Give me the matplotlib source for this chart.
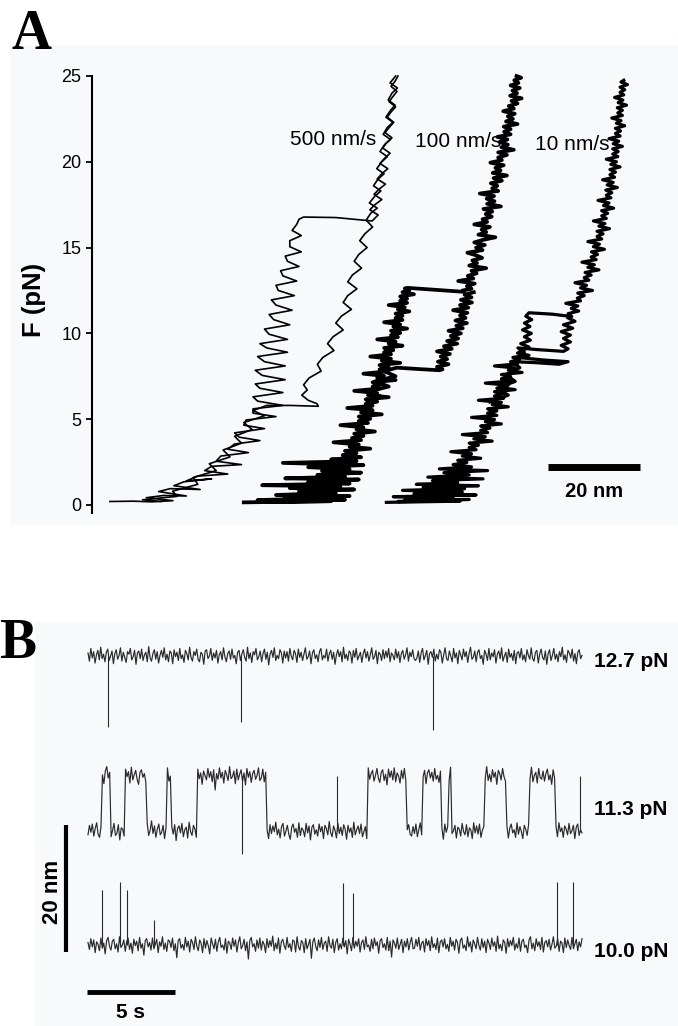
import numpy as np
import matplotlib
matplotlib.use("Agg")
import matplotlib.pyplot as plt
from matplotlib import font_manager
from matplotlib.patches import Rectangle

# ====================== DATA : panel A (force-extension) ======================
Y_TICKS_A = [0, 5, 10, 15, 20, 25]
SPEED_LABELS = ["500 nm/s", "100 nm/s", "10 nm/s"]
SCALE_A_NM = 20

# each trace: (force pN, extension nm) pairs
# 500 nm/s - stretching
C1_UP = [(0.20, 3.9), (0.22, 9.0), (0.18, 13.0), (0.25, 17.6), (0.42, 11.8), (0.55, 15.5), (0.52, 20.5),
         (0.78, 14.5), (0.95, 17.0), (0.90, 23.5), (1.12, 17.8), (1.35, 20.0), (1.52, 26.0), (1.40, 20.5),
         (1.68, 23.0), (1.80, 29.5), (2.00, 24.5), (2.25, 26.0), (2.35, 32.5), (2.55, 27.0), (2.85, 28.0),
         (3.05, 34.0), (3.25, 29.5), (3.55, 31.0), (3.75, 36.5), (3.95, 32.0), (4.20, 31.0), (4.45, 37.5),
         (4.65, 33.0), (4.95, 33.5), (5.15, 40.0), (5.35, 35.0), (5.60, 35.0), (5.80, 41.5), (6.05, 36.0),
         (6.30, 35.0), (6.55, 41.5), (6.80, 36.5), (7.05, 35.5), (7.30, 42.0), (7.55, 37.0), (7.85, 35.5),
         (8.10, 42.0), (8.35, 37.5), (8.65, 36.0), (8.90, 42.5), (9.15, 38.0), (9.40, 36.5), (9.65, 42.5),
         (9.95, 38.5), (10.25, 37.5), (10.50, 43.0), (10.80, 39.5), (11.10, 38.5), (11.35, 43.5),
         (11.65, 40.0), (11.95, 39.0), (12.20, 44.0), (12.50, 40.5), (12.80, 40.0), (13.05, 44.5),
         (13.35, 41.5), (13.65, 41.0), (13.90, 45.0), (14.20, 42.5), (14.50, 42.0), (14.75, 45.5),
         (15.05, 43.0), (15.40, 43.0), (15.70, 45.5), (16.00, 43.5), (16.35, 44.5), (16.65, 45.0),
         (16.78, 46.0), (16.75, 53.0), (16.55, 60.9),
         (16.9, 62.2), (17.2, 60.4), (17.5, 61.5), (17.8, 63.0), (18.1, 61.3), (18.4, 62.4), (18.7, 63.8),
         (19.0, 62.0), (19.3, 63.0), (19.6, 64.3), (19.9, 62.6), (20.2, 63.6), (20.5, 64.8), (20.8, 63.2),
         (21.1, 64.0), (21.4, 65.2), (21.7, 63.7), (22.0, 64.6), (22.3, 65.6), (22.6, 64.2), (22.9, 65.0),
         (23.2, 66.0), (23.5, 64.6), (23.8, 65.4), (24.1, 66.3), (24.4, 65.0), (24.7, 65.9), (25.0, 66.5)]
# 500 nm/s - relaxation
C1_DN = [(25.0, 66.0), (24.6, 64.8), (24.3, 66.4), (24.0, 65.2), (23.6, 64.4), (23.3, 65.9), (23.0, 64.9),
         (22.6, 63.9), (22.3, 65.4), (22.0, 64.2), (21.6, 63.3), (21.3, 64.9), (21.0, 63.6), (20.6, 62.6),
         (20.3, 64.2), (20.0, 63.0), (19.6, 61.9), (19.3, 63.5), (19.0, 62.2), (18.6, 61.2), (18.3, 62.8),
         (18.0, 61.5), (17.6, 60.3), (17.3, 62.0), (17.0, 60.6), (16.6, 59.6), (16.2, 61.0), (15.8, 59.3),
         (15.4, 58.2), (15.0, 59.8), (14.6, 58.0), (14.2, 57.0), (13.8, 58.6), (13.4, 56.6), (13.0, 55.6),
         (12.6, 57.6), (12.2, 55.6), (11.8, 54.6), (11.4, 56.4), (11.0, 54.2), (10.6, 53.0), (10.2, 54.6),
         (9.8, 52.4), (9.4, 51.2), (9.0, 52.6), (8.6, 50.2), (8.2, 49.0), (7.8, 49.8), (7.4, 47.2),
         (7.0, 46.0), (6.7, 46.8), (6.4, 45.6), (6.1, 47.0), (5.9, 48.9), (5.75, 49.2), (5.8, 43.0),
         (5.8, 38.0), (5.5, 35.0), (5.2, 37.5), (4.8, 33.0), (4.4, 34.8), (4.0, 31.0), (3.6, 32.5),
         (3.2, 28.5), (2.8, 30.0), (2.4, 25.5), (2.0, 27.0), (1.6, 22.0), (1.2, 23.0), (0.8, 17.5),
         (0.5, 18.5), (0.3, 11.0), (0.2, 15.0)]

# 100 nm/s - stretching (folded branch, unfolding jump, unfolded branch)
C2_UP = [(0.15, 33.0), (0.22, 52.0), (0.18, 38.0), (0.30, 55.0), (0.28, 36.0), (0.40, 50.0), (0.45, 42.0),
         (0.52, 56.0), (0.58, 40.0), (0.70, 53.0), (0.78, 45.0), (0.90, 57.0), (0.98, 43.0), (1.08, 54.0),
         (1.15, 37.0), (1.25, 56.0), (1.35, 47.0), (1.48, 58.0), (1.55, 42.0), (1.65, 55.0), (1.75, 49.0),
         (1.88, 58.5), (1.98, 50.0), (2.08, 56.0), (2.20, 47.0), (2.32, 59.0), (2.45, 41.5), (2.55, 57.5),
         (2.65, 52.0), (2.78, 58.5),
         (2.90, 54.5), (3.02, 57.5), (3.15, 55.0), (3.28, 60.5), (3.40, 56.0), (3.52, 58.0), (3.65, 52.5),
         (3.78, 58.5), (3.90, 56.5), (4.02, 59.0), (4.15, 57.0), (4.28, 61.5), (4.40, 57.5), (4.52, 59.0),
         (4.65, 54.0), (4.78, 60.0), (4.90, 58.0), (5.02, 60.5), (5.15, 58.0), (5.28, 63.0), (5.40, 58.5),
         (5.52, 61.0), (5.65, 55.5), (5.78, 61.0), (5.90, 59.5), (6.02, 62.0), (6.15, 59.5), (6.28, 64.5),
         (6.40, 60.0), (6.52, 62.0), (6.65, 57.0), (6.78, 62.5), (6.90, 61.0), (7.02, 63.0), (7.15, 61.0),
         (7.28, 66.0), (7.40, 62.0), (7.52, 63.5), (7.65, 59.0), (7.78, 64.0), (7.90, 62.5), (8.02, 64.5),
         (8.15, 62.5), (8.28, 67.0), (8.40, 63.0), (8.52, 65.0), (8.65, 60.5), (8.78, 65.0), (8.90, 63.5),
         (9.02, 65.5), (9.15, 63.5), (9.28, 67.5), (9.40, 64.5), (9.52, 66.0), (9.65, 62.0), (9.78, 66.5),
         (9.90, 65.0), (10.02, 67.0), (10.15, 65.0), (10.28, 68.5), (10.40, 65.5), (10.52, 67.0),
         (10.65, 63.5), (10.78, 67.5), (10.90, 66.0), (11.02, 67.5), (11.15, 66.0), (11.28, 69.0),
         (11.40, 66.5), (11.52, 68.0), (11.65, 64.5), (11.78, 68.5), (11.90, 67.0), (12.02, 68.5),
         (12.15, 67.0), (12.28, 70.0), (12.40, 67.5), (12.52, 69.0), (12.62, 68.0), (12.65, 68.7),
         (12.55, 74.0), (12.42, 80.9),
         (12.50, 80.6), (12.60, 82.5), (12.75, 81.5), (12.90, 83.2), (13.05, 79.6), (13.20, 82.9),
         (13.35, 81.7), (13.50, 83.6), (13.65, 82.5), (13.80, 85.7), (13.95, 82.0), (14.10, 83.7),
         (14.25, 82.7), (14.40, 84.8), (14.55, 83.5), (14.70, 81.6), (14.85, 84.9), (15.00, 83.5),
         (15.15, 85.4), (15.30, 83.1), (15.45, 85.0), (15.60, 87.7), (15.75, 84.0), (15.90, 85.7),
         (16.05, 84.7), (16.20, 86.5), (16.35, 83.1), (16.50, 85.9), (16.65, 84.9), (16.80, 86.9),
         (16.95, 85.6), (17.10, 87.0), (17.25, 85.1), (17.40, 88.9), (17.55, 85.9), (17.70, 87.5),
         (17.85, 85.8), (18.00, 87.4), (18.15, 84.3), (18.30, 88.3), (18.45, 87.0), (18.60, 88.1),
         (18.75, 86.7), (18.90, 89.1), (19.05, 87.3), (19.20, 90.2), (19.35, 87.1), (19.50, 88.8),
         (19.65, 87.7), (19.80, 89.5), (19.95, 86.6), (20.10, 89.1), (20.25, 88.3), (20.40, 90.2),
         (20.55, 88.3), (20.70, 91.7), (20.85, 89.0), (21.00, 90.4), (21.15, 88.6), (21.30, 90.3),
         (21.45, 88.1), (21.60, 91.0), (21.75, 89.6), (21.90, 91.0), (22.05, 89.5), (22.20, 92.5),
         (22.35, 90.0), (22.50, 91.5), (22.65, 90.4), (22.80, 91.9), (22.95, 89.4), (23.10, 91.7),
         (23.25, 90.6), (23.40, 92.5), (23.55, 91.2), (23.70, 93.4), (23.85, 90.9), (24.00, 92.4),
         (24.15, 91.4), (24.30, 93.0), (24.45, 91.0), (24.60, 92.7), (24.75, 91.8), (24.90, 93.3),
         (25.00, 92.3)]
# 100 nm/s - relaxation below the unfolding force, refolding jump
C2_DN = [(12.40, 83.0), (12.25, 81.0), (12.10, 82.5), (11.95, 80.2), (11.80, 82.6), (11.65, 80.0),
         (11.50, 81.8), (11.35, 78.5), (11.20, 81.6), (11.05, 80.0), (10.90, 81.2), (10.75, 79.0),
         (10.60, 81.5), (10.45, 79.2), (10.30, 80.6), (10.15, 77.5), (10.00, 80.2), (9.85, 78.0),
         (9.70, 79.6), (9.55, 77.2), (9.40, 79.4), (9.25, 76.5), (9.10, 78.2), (8.95, 75.0), (8.80, 77.8),
         (8.65, 75.8), (8.50, 77.2), (8.35, 75.2), (8.20, 77.5), (8.05, 75.0), (7.90, 76.2), (7.85, 75.5),
         (7.92, 71.0), (8.00, 66.3), (7.80, 63.5), (7.50, 66.0), (7.20, 61.5), (6.90, 64.5), (6.60, 60.0),
         (6.30, 63.0)]

# 10 nm/s - stretching
C3_UP = [(0.15, 64.0), (0.22, 80.0), (0.20, 66.5), (0.32, 82.0), (0.30, 68.0), (0.42, 78.5), (0.48, 65.5),
         (0.58, 83.5), (0.65, 70.0), (0.75, 80.5), (0.85, 67.5), (0.95, 81.0), (1.02, 72.0), (1.12, 84.0),
         (1.20, 70.5), (1.30, 79.5), (1.42, 74.0), (1.52, 85.0), (1.62, 73.0), (1.75, 82.0), (1.88, 76.5),
         (2.00, 86.0), (2.10, 75.5), (2.22, 82.5),
         (2.35, 78.5), (2.48, 81.5), (2.60, 79.5), (2.72, 84.5), (2.85, 80.5), (2.98, 82.5), (3.10, 78.0),
         (3.22, 83.5), (3.35, 82.0), (3.48, 84.0), (3.60, 82.0), (3.72, 87.0), (3.85, 83.0), (3.98, 85.5),
         (4.10, 80.5), (4.22, 86.0), (4.35, 84.5), (4.48, 86.5), (4.60, 84.5), (4.72, 89.0), (4.85, 85.5),
         (4.98, 87.5), (5.10, 82.5), (5.22, 88.0), (5.35, 86.0), (5.48, 88.0), (5.60, 86.0), (5.72, 90.5),
         (5.85, 87.0), (5.98, 89.0), (6.10, 84.0), (6.22, 89.5), (6.35, 87.5), (6.48, 89.5), (6.60, 87.5),
         (6.72, 92.0), (6.85, 88.5), (6.98, 90.5), (7.10, 85.5), (7.22, 91.0), (7.35, 89.0), (7.48, 91.0),
         (7.60, 89.0), (7.72, 93.5), (7.85, 90.5), (7.98, 92.0), (8.10, 87.5), (8.22, 92.5), (8.35, 91.0),
         (8.48, 93.0), (8.60, 91.5), (8.72, 95.0), (8.85, 92.5),
         (9.00, 93.5), (9.20, 95.0), (9.40, 93.2), (9.60, 95.3), (9.80, 94.0), (10.00, 95.5), (10.20, 93.6),
         (10.40, 95.2), (10.60, 94.0), (10.80, 95.6), (11.00, 94.3), (11.20, 95.0), (11.12, 100.0),
         (10.98, 104.3),
         (11.15, 103.5), (11.30, 105.8), (11.45, 104.2), (11.60, 105.6), (11.75, 103.0), (11.90, 106.2),
         (12.05, 105.5), (12.20, 107.0), (12.35, 105.6), (12.50, 108.8), (12.65, 106.2), (12.80, 107.5),
         (12.95, 105.0), (13.10, 108.0), (13.25, 107.0), (13.40, 108.5), (13.55, 107.2), (13.70, 110.2),
         (13.85, 107.8), (14.00, 109.2), (14.15, 106.5), (14.30, 109.6), (14.45, 108.5), (14.60, 109.9),
         (14.75, 108.6), (14.90, 111.4), (15.05, 109.0), (15.20, 110.3), (15.35, 107.8), (15.50, 110.8),
         (15.65, 109.8), (15.80, 111.1), (15.95, 109.8), (16.10, 112.5), (16.25, 110.2), (16.40, 111.5),
         (16.55, 109.0), (16.70, 111.8), (16.85, 110.8), (17.00, 112.1), (17.15, 110.8), (17.30, 113.4),
         (17.45, 111.2), (17.60, 112.4), (17.75, 110.0), (17.90, 112.8), (18.05, 111.8), (18.20, 113.0),
         (18.35, 111.7), (18.50, 114.2), (18.65, 112.0), (18.80, 113.3), (18.95, 111.0), (19.10, 113.6),
         (19.25, 112.6), (19.40, 113.8), (19.55, 112.6), (19.70, 114.8), (19.85, 112.8), (20.00, 114.0),
         (20.15, 111.8), (20.30, 114.3), (20.45, 113.2), (20.60, 114.4), (20.75, 113.2), (20.90, 115.3),
         (21.05, 113.3), (21.20, 114.5), (21.35, 112.4), (21.50, 114.8), (21.65, 113.8), (21.80, 114.9),
         (21.95, 113.8), (22.10, 115.8), (22.25, 114.0), (22.40, 115.0), (22.55, 113.0), (22.70, 115.3),
         (22.85, 114.3), (23.00, 115.3), (23.15, 114.2), (23.30, 116.2), (23.45, 114.4), (23.60, 115.4),
         (23.75, 113.6), (23.90, 115.6), (24.05, 114.8), (24.20, 115.8), (24.35, 114.8), (24.50, 116.4),
         (24.65, 115.0), (24.75, 115.6)]
# 10 nm/s - relaxation with repeated refolding / unfolding hops
C3_DN = [(10.90, 103.5), (10.70, 105.0), (10.50, 102.5), (10.30, 104.5), (10.10, 102.0), (9.90, 104.0),
         (9.70, 102.5), (9.50, 104.0), (9.30, 102.0), (9.10, 103.5), (8.95, 102.5), (9.05, 97.0),
         (9.15, 92.6), (8.90, 94.0), (8.60, 92.5), (8.45, 98.0), (8.35, 103.5), (8.20, 101.5), (8.30, 96.0),
         (8.35, 91.3), (8.00, 93.0), (7.60, 90.0), (7.20, 92.0), (6.80, 88.0), (6.40, 90.5), (6.00, 86.5)]

# ====================== DATA : panel B (extension vs time) ======================
B_DURATION_S = 28.07
B_FORCE_LABELS = ["12.7 pN", "11.3 pN", "10.0 pN"]
SCALE_B_NM = 20
SCALE_B_S = 5

# 12.7 pN : unfolded level (nm), fluctuations in 0.1 nm, short refolding dips
B1_LEVEL = 45.5
B1_NOISE = [5, -8, 12, -3, 7, -11, 2, 9, -6, 14, -4, 3, -9, 6, 11, -7, 0, 8, -12, 4, 10, -5, 1, 13, -8,
            6, -2, -10, 7, 3, 12, -6, -1, 9, -13, 5, 8, -4, 11, -7, 2, 6, -9, 15, -3, -8, 4, 10, -5, 7,
            -11, 1, 9, -2, 13, -6, 3, -9, 8, 5, -12, 10, -1, 6, -7, 12, -4, 2, -10, 9, 4, -6, 14, -2, -8,
            7, 1, 11, -5, -9, 6, 3, -13, 8, 10, -4, 0, 12, -7, 5, -3, 9, -11, 2, 7, -6, 13, -1, -9, 4,
            8, -5, 11, -3, 1, -12, 6, 9, -7, 3, 10, -2, -8, 14, -4, 5, -10, 7, 2, 12, -6, -1, 8, -9, 4,
            11, -5, 6, -14, 3, 9, -2, 13, -7, 1, -4, 10, 5, -11, 8, -3, 7, -8, 12, 0, -6, 9, 4, -10, 11,
            -2, 6, -7, 3, 13, -5, -1, 8, -12, 5, 10, -4, 2, -9, 7, 12, -6, 1, -3, 11, -8, 4, 9, -5, 6,
            -13, 2, 10, -1, 7, -9, 14, -4, 3, -7, 8, 5, -11, 9, -2, 12, -6, 0, 6, -10, 4, 11, -3, 7, -8,
            2, 13, -5, -1, 9, -12, 6, 3, -7, 10, -4, 8, -2, 12, -9, 5, 1, -6, 11, -3, 7, -10, 4, 9, -5,
            2, 13, -8, 6, -1, 10, -4, -7, -3, 8, -10, 5, 12, -6, 1, 9, -13, 4, 7, -2, 11, -8, 3, -5, 10,
            6, -11, 2, 13, -4, -7, 8, 0, -9, 12, -3, 5, -12, 9, 2, -6, 11, -1, 7, -10, 4, 14, -5, -2, 8,
            -9, 6, 10, -4, 1, -13, 9, 3, -7, 12, -6, 5, -1, 10, -11, 3, 8, -4, 13, -8, 0, 6, -10, 11, -2,
            4, -7, 9, -12, 5, 7, -3, 12, -6, 2, -9, 10, 1, -5, 13, -4, -8, 6, 9, -11, 3, 11, -2, -6, 8,
            -13, 4, 10, -7, 1, 12, -5, 3, -9, 7, -1, 14, -6, 2, -10, 9, 5, -3, 11, -8, 4, -12, 6, 10, -4, 1]
B1_DIP_T = [1.14, 8.69, 19.60]
B1_DIP_NM = [11.2, 10.4, 11.7]

# 11.3 pN : hopping between two levels (switch times in s, starting in the lower level)
B2_LOWER = 17.95
B2_STEP = 8.65
B2_SWITCH_T = [0.80, 1.25, 2.10, 3.35, 4.49, 4.72, 6.19, 10.11, 15.85, 18.13, 18.98, 20.06,
               20.45, 20.68, 22.56, 23.75, 25.06, 26.53]
B2_UP_SPIKE_T = [14.15, 27.95]
B2_DOWN_SPIKE_T = [8.75]
B2_DOWN_SPIKE_NM = [12.2]
B2_NOISE = [-6, 9, -2, 11, -8, 4, 13, -5, -10, 7, 2, -12, 8, 15, -3, 6, -9, 1, 12, -7, -4, 10, -14, 5,
            3, -8, 11, -1, 7, -11, 14, -6, 2, 9, -5, -13, 6, 10, -2, 4, -9, 12, -7, 1, 16, -4, 8, -10,
            3, 11, -6, -2, 9, -12, 5, 13, -8, 0, 7, -5, 10, -15, 4, 8, -3, 12, -9, 2, 6, -11, 14, -1,
            -7, 9, 3, -10, 11, -4, 5, -13, 8, 1, -6, 12, -2, 7, -9, 10, -22, 4, -5, 13, -3, 6, -11, 9,
            2, -7, 15, -4, -1, 8, -12, 11, -6, 3, 10, -8, 5, -14, 12, -2, 7, -10, 4, 9, -5, 1, 13, -7,
            -3, 11, -9, 6, 2, -12, 10, -4, 8, -1, 14, -6, 3, -11, 7, 12, -8, 0, 9, -5, -13, 6, 11, -2,
            4, -10, 13, -7, 5, 1, -9, 12, -3, 8, -14, 6, 10, -5, 2, -8, 11, -1, 7, -12, 9, 4, -6, 15,
            -3, -9, 8, 1, -11, 12, -4, 6, -7, 10, 3, -13, 9, -2, 5, -10, 14, -6, 2, 8, -4, 11, -9, -1,
            7, -12, 13, -5, 4, 9, -8, 1, 12, -3, -10, 6, 10, -7, 3, -14, 11, -2, 8, -6, 13, -9, 5, 0,
            -11, 9, -4, 12, -7, 2, 10, -5, -8, 7, -4, 11, -9, 2, 13, -6, -1, 9, -12, 5, 10, -3, 6, -8,
            12, -5, 1, -10, 8, 4, -13, 11, -2, 7, -7, 14, -4, 0, 9, -11, 6, 3, -8, 12, -1, -6, 10, -9,
            5, 2, -12, 13, -3, 8, -5, 11, -10, 1, 7, -4, 15, -7, 3, -9, 10, -2, 6, -13, 9, 4, -6, 12,
            -1, -8, 8, -11, 5, 11, -3, 2, -10, 13, -5, 7, -1, -12, 9, 3, -7, 10, -4, 14, -9, 1, 6, -11,
            12, -2, -5, 8, -8, 4, 11, -6, 2, -13, 10, -3, 7, -9, 13, -1, 5, -10, 8, 3, -6, 12, -4, 0, 9,
            -12, 6, 11, -7, 2, -3]

# 10.0 pN : folded level, short unfolding spikes (times s, heights nm)
B3_LEVEL = 0.0
B3_SPIKE_T = [0.80, 1.82, 2.22, 3.75, 14.49, 15.06, 26.65, 27.56]
B3_SPIKE_NM = [8.7, 9.9, 8.7, 3.9, 9.8, 8.2, 9.9, 9.9]
B3_NOISE = [4, -7, 10, -3, 8, -12, 5, 1, -9, 11, -5, 3, -14, 7, 12, -2, -8, 6, 9, -6, 2, -11, 13, -4,
            0, 8, -10, 5, 11, -7, 3, -13, 9, -1, 6, -9, 12, -5, 2, -16, 7, 10, -3, 4, -8, 11, -6, 1, 9,
            -12, 5, -2, 13, -7, 3, -10, 8, 6, -4, 11, -9, 2, -20, 7, 10, -5, 1, -8, 12, -3, 6, -11, 9,
            4, -7, 13, -2, -9, 8, 3, -12, 10, -5, 7, -1, -14, 11, 2, -6, 9, -10, 5, 12, -4, 0, -8, 10,
            -13, 6, 3, -7, 11, -2, 8, -11, 4, 13, -6, -1, 9, -9, 5, -22, 7, 12, -3, 2, -10, 8, -5, 11,
            -8, 6, 1, -12, 10, -4, 7, -2, 14, -9, 3, -6, 11, -13, 5, 9, -1, -7, 12, -4, 2, -10, 8, 6,
            -11, 13, -3, -8, 7, 4, -12, 10, -6, 1, 9, -21, 5, 11, -2, -9, 8, -4, 12, -7, 3, 6, -10, 13,
            -1, -5, 9, -12, 4, 10, -8, 2, -6, 11, -3, 7, -14, 9, 1, -9, 12, -5, 6, -2, 10, -11, 4, 8,
            -7, 13, -3, 0, -10, 9, -6, 11, -1, 5, -13, 7, 10, -4, 2, -8, 12, -9, 6, -19, 8, 3, -5, 11,
            -7, 1, 9, -12, 6, -3, 10, -8, 4, 12, -6, -5, 9, -2, 12, -8, 3, 6, -11, 10, -1, 7, -9, 13,
            -4, 2, -7, 11, -12, 5, 8, -3, 10, -6, 1, -10, 12, -2, 6, -8, 9, 4, -13, 7, 11, -5, 0, -9, 13,
            -3, 5, -11, 8, 2, -6, 12, -1, -8, 10, -4, 6, -12, 9, 3, -7, 11, -2, 5, -10, 14, -6, 1, -9, 8,
            4, -13, 10, -3, 7, -1, 12, -8, 2, -5, 11, -10, 6, 9, -4, 0, -12, 8, 13, -6, 3, -9, 10, -2, 5,
            -7, 12, -11, 4, 7, -3, 9, -8, 1, 13, -5, -2, 10, -10, 6, 3, -12, 11, -4, 8, -1, -7, 12, -6, 2,
            9, -9, 5, -3, 10]

# ====================== FONTS ======================
_names = {f.name for f in font_manager.fontManager.ttflist}
def _pick(cands):
    for c in cands:
        if c in _names:
            return c
    return "DejaVu Sans"
SANS = _pick(["Liberation Sans", "Arial", "DejaVu Sans"])
SERIF = _pick(["Liberation Serif", "DejaVu Serif"])
plt.rcParams["font.family"] = [SANS, "DejaVu Sans"]

BG = "#f8f9fb"
W, H = 678, 1026
fig = plt.figure(figsize=(W / 100, H / 100), dpi=100)
fig.patch.set_facecolor("white")

def fx(px):
    return px / W

def fy(py):
    return 1 - py / H

# background of panel A
fig.add_artist(Rectangle((fx(10), fy(525)), fx(668), 480 / H, transform=fig.transFigure,
                         facecolor=BG, edgecolor="none", zorder=0))

# ---------------- panel A ----------------
axA = fig.add_axes([fx(92), fy(513), fx(586), (513 - 76) / H])
axA.set_facecolor("none")
axA.set_xlim(0, 586 / 4.6)
axA.set_ylim(-0.47, 25)
for s in ["top", "right", "bottom"]:
    axA.spines[s].set_visible(False)
axA.spines["left"].set_linewidth(1.5)
axA.set_xticks([])
axA.set_yticks(Y_TICKS_A)
axA.tick_params(axis="y", length=4.5, width=1.3, pad=3, labelsize=13, direction="out")


def plot_fx(ax, pairs, **kw):
    f, x = zip(*pairs)
    ax.plot(x, f, **kw)


kw1 = dict(color="black", lw=1.2, solid_joinstyle="round", clip_on=False)
plot_fx(axA, C1_UP, **kw1)
plot_fx(axA, C1_DN, **kw1)
kw2 = dict(color="black", lw=2.7, solid_joinstyle="round", clip_on=False)
kw3 = dict(color="black", lw=2.3, solid_joinstyle="round", clip_on=False)
plot_fx(axA, C2_UP, **kw2)
plot_fx(axA, C2_DN, **kw2)
plot_fx(axA, C3_UP, **kw3)
plot_fx(axA, C3_DN, **kw3)

for lab, x, y in zip(SPEED_LABELS, [52.4, 79.7, 104.3], [20.98, 20.86, 20.69]):
    axA.text(x, y, lab, ha="center", va="baseline", fontsize=15)

axA.plot([99.1, 99.1 + SCALE_A_NM], [2.24, 2.24], color="black", lw=5, solid_capstyle="butt",
         clip_on=False)
axA.text(99.1 + SCALE_A_NM / 2, 0.47, f"{SCALE_A_NM} nm", ha="center", va="baseline",
         fontsize=14.5, weight="bold")

fig.text(fx(34), fy(300), "F (pN)", rotation=90, ha="center", va="center", fontsize=18.5,
         weight="bold")
fig.text(fx(11), fy(9), "A", ha="left", va="top", fontsize=40, weight="bold", family=SERIF)

# ---------------- panel B ----------------
axB = fig.add_axes([fx(35), 0, fx(643), (1026 - 622) / H])
axB.set_facecolor(BG)
axB.set_xlim(-53 / 17.6, 590 / 17.6)
axB.set_ylim(-81 / 6.35, 323 / 6.35)
axB.axis("off")
axB.add_patch(Rectangle((0, 0), 1, 1, transform=axB.transAxes, facecolor=BG, edgecolor="none",
                        zorder=0))

TC = "#2a2a2a"
LW = 0.85

t1 = np.linspace(0.0, B_DURATION_S, len(B1_NOISE))
axB.plot(t1, B1_LEVEL + np.array(B1_NOISE) / 10, color=TC, lw=LW)
axB.vlines(B1_DIP_T, [B1_LEVEL - d for d in B1_DIP_NM], B1_LEVEL, color=TC, lw=0.8)

t2 = np.linspace(0.0, B_DURATION_S, len(B2_NOISE))
state = np.searchsorted(np.array(B2_SWITCH_T), t2, side="right") % 2
axB.plot(t2, B2_LOWER + B2_STEP * state + np.array(B2_NOISE) / 10, color=TC, lw=LW)
axB.vlines(B2_UP_SPIKE_T, B2_LOWER, B2_LOWER + B2_STEP, color=TC, lw=0.8)
axB.vlines(B2_DOWN_SPIKE_T, [B2_LOWER + B2_STEP - d for d in B2_DOWN_SPIKE_NM],
           B2_LOWER + B2_STEP, color=TC, lw=0.8)

t3 = np.linspace(0.0, B_DURATION_S, len(B3_NOISE))
axB.plot(t3, B3_LEVEL + np.array(B3_NOISE) / 10, color=TC, lw=LW)
axB.vlines(B3_SPIKE_T, B3_LEVEL, [B3_LEVEL + h for h in B3_SPIKE_NM], color=TC, lw=0.8)

for lab, y in zip(B_FORCE_LABELS, [43.8, 20.5, -1.9]):
    axB.text(28.75, y, lab, ha="left", va="baseline", fontsize=15, weight="bold")

axB.plot([-1.25, -1.25], [-1.1, -1.1 + SCALE_B_NM], color="black", lw=3, solid_capstyle="butt")
axB.text(-2.0, 8.35, f"{SCALE_B_NM} nm", rotation=90, ha="center", va="center", fontsize=16,
         weight="bold")
axB.plot([-0.06, -0.06 + SCALE_B_S], [-7.4, -7.4], color="black", lw=3.5, solid_capstyle="butt")
axB.text(-0.06 + SCALE_B_S / 2, -11.5, f"{SCALE_B_S} s", ha="center", va="baseline", fontsize=15,
         weight="bold")

fig.text(fx(-1), fy(618), "B", ha="left", va="top", fontsize=40, weight="bold", family=SERIF)

fig.savefig("out.png", dpi=100, facecolor="white")
